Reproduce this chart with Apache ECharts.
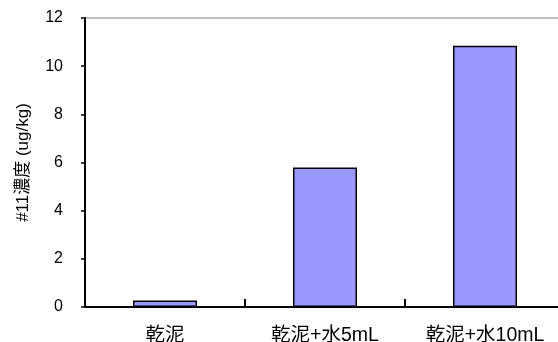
<!DOCTYPE html>
<html>
<head>
<meta charset="utf-8">
<script src="https://cdn.jsdelivr.net/npm/echarts@6/dist/echarts.min.js"></script>
<style>
  html, body { margin: 0; padding: 0; background: #fff; }
  #chart { width: 558px; height: 342px; }
</style>
</head>
<body>
<div id="chart"></div>
<script>
// Sample conditions and measured #11 concentration (ug/kg)
const categories = ['乾泥', '乾泥+水5mL', '乾泥+水10mL'];
const concentration = [0.27, 5.79, 10.85];
const yTicks = { min: 0, max: 12, interval: 2 };

const FONT = "'Liberation Sans', 'Noto Sans CJK JP', sans-serif";

const chart = echarts.init(document.getElementById('chart'), null, { renderer: 'canvas' });
chart.setOption({
  backgroundColor: '#ffffff',
  animation: false,
  grid: {
    left: 85,
    top: 18,
    width: 480,
    height: 289,
    show: true,
    borderColor: '#808080',
    borderWidth: 1,
    backgroundColor: 'transparent',
    containLabel: false,
    outerBoundsMode: 'none'
  },
  xAxis: {
    type: 'category',
    data: categories,
    axisLine: { show: true, lineStyle: { color: '#000', width: 2 } },
    axisTick: { show: true, inside: true, length: 8, lineStyle: { color: '#000', width: 2 } },
    axisLabel: { color: '#000', fontSize: 19.5, fontFamily: FONT, margin: 19 },
    splitLine: { show: false }
  },
  yAxis: {
    type: 'value',
    min: yTicks.min,
    max: yTicks.max,
    interval: yTicks.interval,
    name: '#11濃度 (ug/kg)',
    nameLocation: 'middle',
    nameGap: 53,
    nameTextStyle: { color: '#000', fontSize: 17, fontFamily: FONT },
    axisLine: { show: true, lineStyle: { color: '#000', width: 2 } },
    axisTick: { show: true, inside: false, length: 4, lineStyle: { color: '#000', width: 1.5 } },
    axisLabel: { color: '#000', fontSize: 16, fontFamily: FONT, margin: 22 },
    splitLine: { show: false }
  },
  series: [{
    type: 'bar',
    data: concentration,
    barWidth: 64,
    itemStyle: { color: '#9999ff', borderColor: '#000', borderWidth: 1.5 }
  }]
});
</script>
</body>
</html>
